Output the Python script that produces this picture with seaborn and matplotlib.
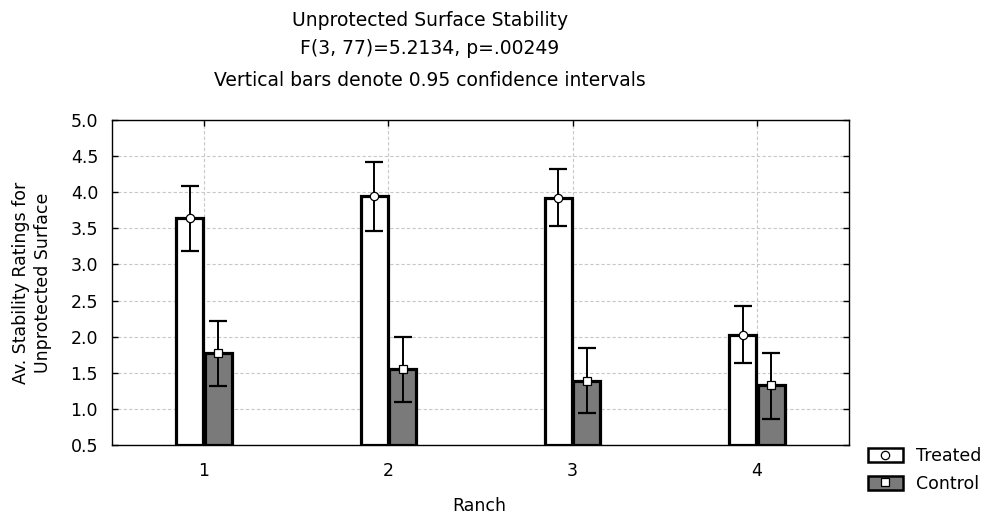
import matplotlib
matplotlib.use("Agg")
import matplotlib.pyplot as plt
import seaborn as sns
import pandas as pd
import numpy as np
from matplotlib.patches import Patch
from matplotlib.lines import Line2D
from matplotlib.legend_handler import HandlerTuple

ranches = ["1", "2", "3", "4"]
groups = ["Treated", "Control"]
treated_mean = [3.65, 3.95, 3.92, 2.03]
treated_low = [3.19, 3.47, 3.53, 1.64]
treated_high = [4.09, 4.42, 4.32, 2.43]
control_mean = [1.77, 1.55, 1.38, 1.33]
control_low = [1.32, 1.10, 0.94, 0.86]
control_high = [2.22, 2.00, 1.84, 1.77]
y_ticks = [0.5, 1.0, 1.5, 2.0, 2.5, 3.0, 3.5, 4.0, 4.5, 5.0]

sns.set_theme(style="white")
plt.rcParams['font.family'] = ['DejaVu Sans']
plt.rcParams['text.color'] = 'black'
plt.rcParams['axes.labelcolor'] = 'black'
plt.rcParams['xtick.color'] = 'black'
plt.rcParams['ytick.color'] = 'black'

FS = 12.5

df = pd.DataFrame({
    "Ranch": ranches * 2,
    "Group": ["Treated"] * 4 + ["Control"] * 4,
    "Mean": treated_mean + control_mean,
})

fig = plt.figure(figsize=(9.88, 5.14), dpi=100)
ax = fig.add_axes([112/988, 1 - 445/514, (849-112)/988, (445-120)/514])

colors = {"Treated": "white", "Control": "#7a7a7a"}
sns.barplot(data=df, x="Ranch", y="Mean", hue="Group", hue_order=groups,
            palette=colors, width=0.31, gap=0.06, edgecolor="black", linewidth=2.3,
            errorbar=None, legend=False, ax=ax, zorder=3)

# Bars start at the 0.5 baseline
for p in ax.patches:
    h = p.get_height()
    p.set_y(0.5)
    p.set_height(h - 0.5)

xs = np.arange(len(ranches))
off = 0.0775
means = [treated_mean, control_mean]
lows = [treated_low, control_low]
highs = [treated_high, control_high]
markers = ["o", "s"]
for i, g in enumerate(groups):
    xpos = xs + (-off if i == 0 else off)
    m = np.array(means[i])
    yerr = [m - np.array(lows[i]), np.array(highs[i]) - m]
    ax.errorbar(xpos, m, yerr=yerr, fmt="none", ecolor="black", elinewidth=1.4,
                capsize=6.5, capthick=1.6, zorder=4)
    ax.plot(xpos, m, linestyle="none", marker=markers[i], markersize=6,
            markerfacecolor="white", markeredgecolor="black", markeredgewidth=0.9, zorder=5)

ax.set_ylim(0.5, 5.0)
ax.set_xlim(-0.5, 3.5)
ax.set_yticks(y_ticks)
ax.set_yticklabels([f"{v:.1f}" for v in y_ticks])
ax.set_xticks(xs)
ax.set_xticklabels(ranches)
ax.grid(True, linestyle=(0, (3, 2)), color="#c8c8c8", linewidth=0.8, zorder=0)
ax.set_axisbelow(True)
for s in ax.spines.values():
    s.set_visible(True)
    s.set_color("black")
    s.set_linewidth(1.0)
ax.tick_params(axis="both", direction="in", length=4, width=1, colors="black",
               labelsize=FS, top=True, right=True, left=True, bottom=True)
ax.tick_params(axis="y", pad=10)
ax.tick_params(axis="x", pad=12)
ax.set_xlabel("Ranch", fontsize=FS)
ax.xaxis.set_label_coords((479-112)/(849-112), -(506-445)/(445-120))
ax.set_ylabel("Av. Stability Ratings for\nUnprotected Surface", fontsize=FS, linespacing=1.35)
ax.yaxis.set_label_coords(-(112-32)/(849-112), 0.5)
ax.xaxis.label.set_va("center")
ax.yaxis.label.set_va("center")

fig.text(430/988, 1 - 21/514, "Unprotected Surface Stability", ha="center", va="center", fontsize=13.5)
fig.text(430/988, 1 - 49/514, "F(3, 77)=5.2134, p=.00249", ha="center", va="center", fontsize=13.5)
fig.text(430/988, 1 - 81/514, "Vertical bars denote 0.95 confidence intervals", ha="center", va="center", fontsize=13.5)

h_t = (Patch(facecolor="white", edgecolor="black", linewidth=1.8),
       Line2D([], [], linestyle="none", marker="o", markersize=6, markerfacecolor="white",
              markeredgecolor="black", markeredgewidth=0.9))
h_c = (Patch(facecolor="#7a7a7a", edgecolor="black", linewidth=1.8),
       Line2D([], [], linestyle="none", marker="s", markersize=6, markerfacecolor="white",
              markeredgecolor="black", markeredgewidth=0.9))
fig.legend([h_t, h_c], groups, handler_map={tuple: HandlerTuple(ndivide=1)},
           loc="center left", bbox_to_anchor=(868/988, 1 - 470/514), frameon=False,
           fontsize=FS, handlelength=2.0, handleheight=0.85, labelspacing=0.55, handletextpad=0.75,
           borderaxespad=0, borderpad=0)

fig.savefig("out.png", dpi=100)
